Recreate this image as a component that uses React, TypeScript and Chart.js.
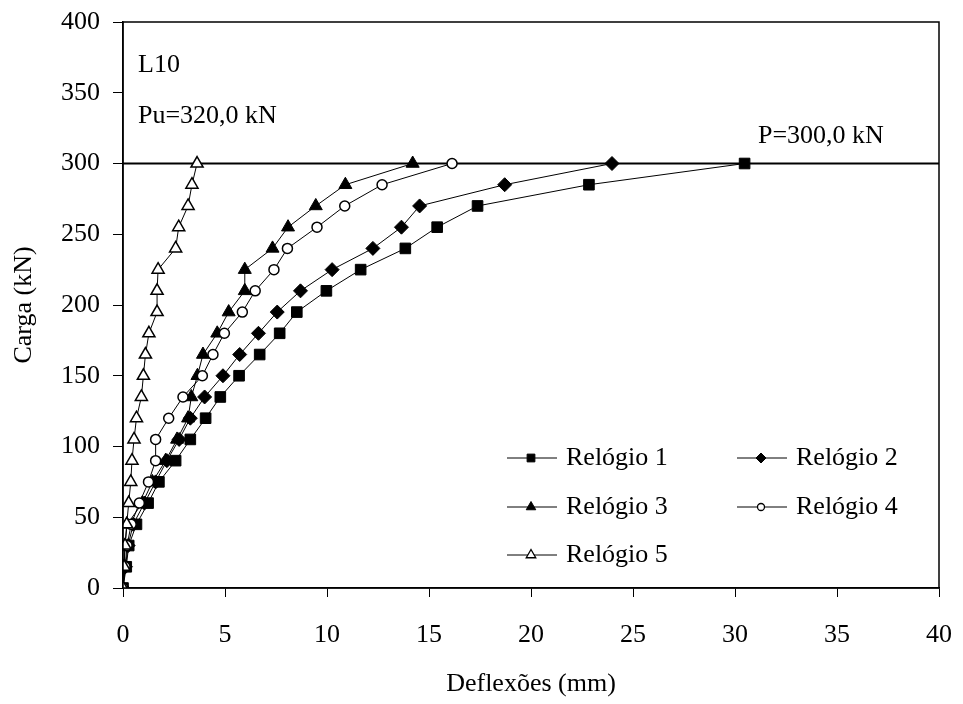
import React, { useEffect, useRef } from "react";
import { Chart, registerables } from "chart.js";
import { drawPoint } from "chart.js/helpers";

Chart.register(...registerables);

// Load steps (kN)
const loads = [0, 15, 30, 45, 60, 75, 90, 105, 120, 135, 150, 165, 180, 195, 210, 225, 240, 255, 270, 285, 300];
// Deflections (mm) per dial gauge
const relogio1 = [0, 0.16, 0.28, 0.66, 1.23, 1.76, 2.58, 3.3, 4.05, 4.77, 5.69, 6.7, 7.68, 8.52, 9.97, 11.65, 13.84, 15.4, 17.38, 22.84, 30.47];
const relogio2 = [0, 0.12, 0.25, 0.5, 1.05, 1.6, 2.15, 2.75, 3.3, 4.0, 4.9, 5.72, 6.64, 7.56, 8.7, 10.25, 12.25, 13.65, 14.54, 18.71, 23.97];
const relogio3 = [0, 0.05, 0.1, 0.2, 0.95, 1.44, 2.09, 2.65, 3.19, 3.35, 3.65, 3.92, 4.62, 5.18, 5.97, 5.97, 7.33, 8.09, 9.45, 10.9, 14.2];
const relogio4 = [0, 0.1, 0.2, 0.4, 0.8, 1.25, 1.6, 1.6, 2.24, 2.94, 3.89, 4.41, 4.97, 5.85, 6.48, 7.4, 8.06, 9.51, 10.87, 12.7, 16.13];
const relogio5 = [0, 0.05, 0.1, 0.18, 0.28, 0.38, 0.44, 0.54, 0.66, 0.9, 1.0, 1.1, 1.27, 1.67, 1.67, 1.72, 2.58, 2.73, 3.19, 3.38, 3.63];

const seriesNames = ["Relógio 1", "Relógio 2", "Relógio 3", "Relógio 4", "Relógio 5"];
const refLoad = 300;
const refLine = [0, 40];
const xMin = 0, xMax = 40, xStep = 5;
const yMin = 0, yMax = 400, yStep = 50;
const noteLines = ["L10", "Pu=320,0 kN"];
const refNote = "P=300,0 kN";

const FONT = '"Liberation Serif", "Times New Roman", serif';

const markerStyles = [
  { pointStyle: "rect", radius: 7.5, fill: "#000", borderWidth: 1 },
  { pointStyle: "rectRot", radius: 7, fill: "#000", borderWidth: 1 },
  { pointStyle: "triangle", radius: 7.5, fill: "#000", borderWidth: 1 },
  { pointStyle: "circle", radius: 5, fill: "#fff", borderWidth: 1.5 },
  { pointStyle: "triangle", radius: 7, fill: "#fff", borderWidth: 1.5 },
];

const overlayPlugin = {
  id: "overlay",
  afterDraw(chart: any) {
    const { ctx, chartArea: a } = chart;
    ctx.save();
    // plot frame
    ctx.strokeStyle = "#000";
    ctx.lineWidth = 1.5;
    ctx.strokeRect(a.left, a.top, a.right - a.left, a.bottom - a.top);

    // annotations
    ctx.fillStyle = "#000";
    ctx.font = `26px ${FONT}`;
    ctx.textAlign = "left";
    ctx.textBaseline = "alphabetic";
    ctx.fillText(noteLines[0], a.left + 15, a.top + 50);
    ctx.fillText(noteLines[1], a.left + 15, a.top + 101);
    ctx.fillText(refNote, 758, 143);

    // legend
    const legendPos = [
      [507, 458], [737, 458],
      [507, 507], [737, 507],
      [507, 555],
    ];
    const legendMarkers = [
      { pointStyle: "rect", radius: 5.5, fill: "#000", borderWidth: 1 },
      { pointStyle: "rectRot", radius: 5, fill: "#000", borderWidth: 1 },
      { pointStyle: "triangle", radius: 5.5, fill: "#000", borderWidth: 1 },
      { pointStyle: "circle", radius: 3.5, fill: "#fff", borderWidth: 1.3 },
      { pointStyle: "triangle", radius: 5.5, fill: "#fff", borderWidth: 1.3 },
    ];
    seriesNames.forEach((name, i) => {
      const [x0, y] = legendPos[i];
      ctx.strokeStyle = "#000";
      ctx.lineWidth = 1;
      ctx.beginPath();
      ctx.moveTo(x0, y);
      ctx.lineTo(x0 + 50, y);
      ctx.stroke();
      const m = legendMarkers[i];
      ctx.fillStyle = m.fill;
      ctx.strokeStyle = "#000";
      ctx.lineWidth = m.borderWidth;
      drawPoint(ctx, { pointStyle: m.pointStyle as any, radius: m.radius, rotation: 0, borderWidth: m.borderWidth }, x0 + 24, y);
      ctx.fillStyle = "#000";
      ctx.font = `26px ${FONT}`;
      ctx.textBaseline = "middle";
      ctx.fillText(name, x0 + 59, y);
    });
    ctx.restore();
  },
};

export default function App() {
  const canvasRef = useRef<HTMLCanvasElement | null>(null);

  useEffect(() => {
    const canvas = canvasRef.current;
    if (!canvas) return;
    const allSeries = [relogio1, relogio2, relogio3, relogio4, relogio5];
    const datasets: any[] = allSeries.map((vals, i) => {
      const m = markerStyles[i];
      return {
        label: seriesNames[i],
        data: vals.map((v, k) => ({ x: v, y: loads[k] })),
        borderColor: "#000",
        borderWidth: 1,
        backgroundColor: m.fill,
        pointBackgroundColor: m.fill,
        pointBorderColor: "#000",
        pointBorderWidth: m.borderWidth,
        pointStyle: m.pointStyle,
        pointRadius: m.radius,
        pointHoverRadius: m.radius,
        tension: 0,
        fill: false,
        order: 5 - i,
      };
    });
    datasets.push({
      label: "ref",
      data: refLine.map((x) => ({ x, y: refLoad })),
      borderColor: "#000",
      borderWidth: 2,
      pointRadius: 0,
      fill: false,
      order: 20,
    });

    const chart = new Chart(canvas, {
      type: "line",
      data: { datasets },
      options: {
        animation: false,
        responsive: false,
        devicePixelRatio: 1,
        layout: { padding: { left: 0, right: 24, top: 22, bottom: 0 } },
        plugins: { legend: { display: false }, tooltip: { enabled: false } },
        scales: {
          x: {
            type: "linear",
            min: xMin,
            max: xMax,
            afterFit: (s: any) => { s.height = 116; s.paddingLeft = 0; s.paddingRight = 0; },
            ticks: { stepSize: xStep, color: "#000", font: { family: FONT, size: 26 }, padding: 23, maxRotation: 0 },
            grid: { display: true, drawOnChartArea: false, drawTicks: true, tickLength: 9, color: "#000", lineWidth: 1 },
            border: { display: true, color: "#000", width: 1.5 },
            title: { display: true, text: "Deflexões (mm)", color: "#000", font: { family: FONT, size: 26 }, padding: { top: 0, bottom: 4 } },
          },
          y: {
            type: "linear",
            min: yMin,
            max: yMax,
            afterFit: (s: any) => { s.width = 123; s.paddingTop = 0; s.paddingBottom = 0; },
            ticks: { stepSize: yStep, color: "#000", font: { family: FONT, size: 26 }, padding: 13 },
            grid: { display: true, drawOnChartArea: false, drawTicks: true, tickLength: 10, color: "#000", lineWidth: 1 },
            border: { display: true, color: "#000", width: 1.5 },
            title: { display: true, text: "Carga (kN)", color: "#000", font: { family: FONT, size: 26 }, padding: { top: 9, bottom: 0 } },
          },
        },
      },
      plugins: [overlayPlugin],
    });
    return () => chart.destroy();
  }, []);

  return (
    <div style={{ position: "absolute", left: 0, top: 0, width: 963, height: 704, background: "#fff" }}>
      <canvas ref={canvasRef} width={963} height={704} style={{ display: "block" }} />
    </div>
  );
}
